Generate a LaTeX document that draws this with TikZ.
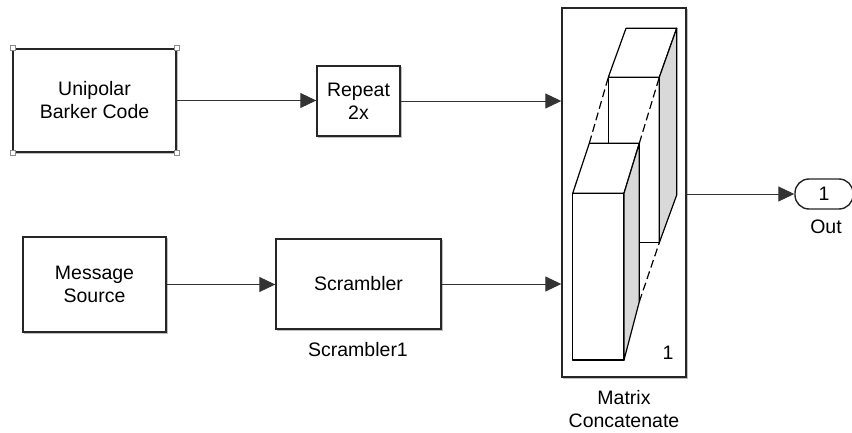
\documentclass[tikz,border=0pt]{standalone}
\usepackage{fontspec}
\setmainfont{Liberation Sans}
\usetikzlibrary{arrows.meta,calc}
\begin{document}
\begin{tikzpicture}[x=1pt,y=-1pt,
  blk/.style={draw=black!85,line width=1.4pt,fill=white,align=center,inner sep=0pt,
    font=\fontsize{19.5}{23}\selectfont,
    preaction={draw=black!25,line width=1.6pt,transform canvas={shift={(1.5pt,-1.5pt)}}}},
  conn/.style={draw=black!80,line width=0.9pt,-{Triangle[length=16pt,width=15pt]}},
  lbl/.style={font=\fontsize{19.5}{23}\selectfont,inner sep=0pt,align=center},
  handle/.style={draw=black!45,fill=white,line width=0.6pt,minimum size=5pt,inner sep=0pt},
  solid3d/.style={draw=black,line width=1.2pt,fill=white,line join=round},
  side3d/.style={draw=black,line width=1.2pt,fill=black!15,line join=round}]
\useasboundingbox (0,0) rectangle (852,433);
\clip (0,0) rectangle (852,433);

% blocks
\node[blk,minimum width=163pt,minimum height=103pt] (ubc) at (94.5,100.5) {Unipolar\\Barker Code};
\node[blk,minimum width=83pt,minimum height=70pt] (rep) at (358.5,101) {Repeat\\2x};
\node[blk,minimum width=143pt,minimum height=95pt] (msg) at (94.5,284.5) {Message\\Source};
\node[blk,minimum width=165pt,minimum height=90pt] (scr) at (358.5,284) {Scrambler};
\node[blk,minimum width=124pt,minimum height=369pt] (mc) at (624,192.5) {};
\node[draw=black!85,line width=1.4pt,fill=white,rounded corners=14pt,minimum width=58pt,minimum height=30pt,inner sep=0pt,font=\fontsize{19.5}{23}\selectfont] (out) at (824,194) {1};

% selection handles
\foreach \c in {north west,north east,south west,south east}
  \node[handle] at (ubc.\c) {};

% labels
\node[lbl] (scrlbl) at (358,350) {Scrambler1};
\node[lbl] (mclbl) at (624,409) {Matrix\\Concatenate};
\node[lbl] (outlbl) at (826,227) {Out};
\node[lbl] (mcnum) at (668,353) {1};

% 3D concat icon: back block
\draw[solid3d] (608.3,77.3) rectangle (659.3,242.7);
\draw[solid3d] (608.3,77.3) -- (626,28.3) -- (676.7,28.3) -- (659.3,77.3) -- cycle;
\draw[side3d] (659.3,77.3) -- (676.7,28.3) -- (676.7,195) -- (659.3,242.7) -- cycle;
% front block
\draw[solid3d] (572.7,193.3) rectangle (624,360);
\draw[solid3d] (572.7,193.3) -- (589.3,143.3) -- (639.3,143.3) -- (624,193.3) -- cycle;
\draw[side3d] (624,193.3) -- (639.3,143.3) -- (639.3,301.7) -- (624,360) -- cycle;
% dashed projections
\draw[black,line width=1.2pt,dash pattern=on 8pt off 4pt] (589.3,143.3) -- (608.3,77.3);
\draw[black,line width=1.2pt,dash pattern=on 8pt off 4pt] (639.3,143.3) -- (659.3,77.3);
\draw[black,line width=1.2pt,dash pattern=on 8pt off 4pt] (639.3,301.7) -- (659.3,242.7);

% connectors
\draw[conn] (ubc.east) -- (ubc.east -| rep.west);
\draw[conn] (rep.east) -- (rep.east -| mc.west);
\draw[conn] (msg.east) -- (msg.east -| scr.west);
\draw[conn] (scr.east) -- (scr.east -| mc.west);
\draw[conn] (mc.east |- out.west) -- (out.west);
\end{tikzpicture}
\end{document}
